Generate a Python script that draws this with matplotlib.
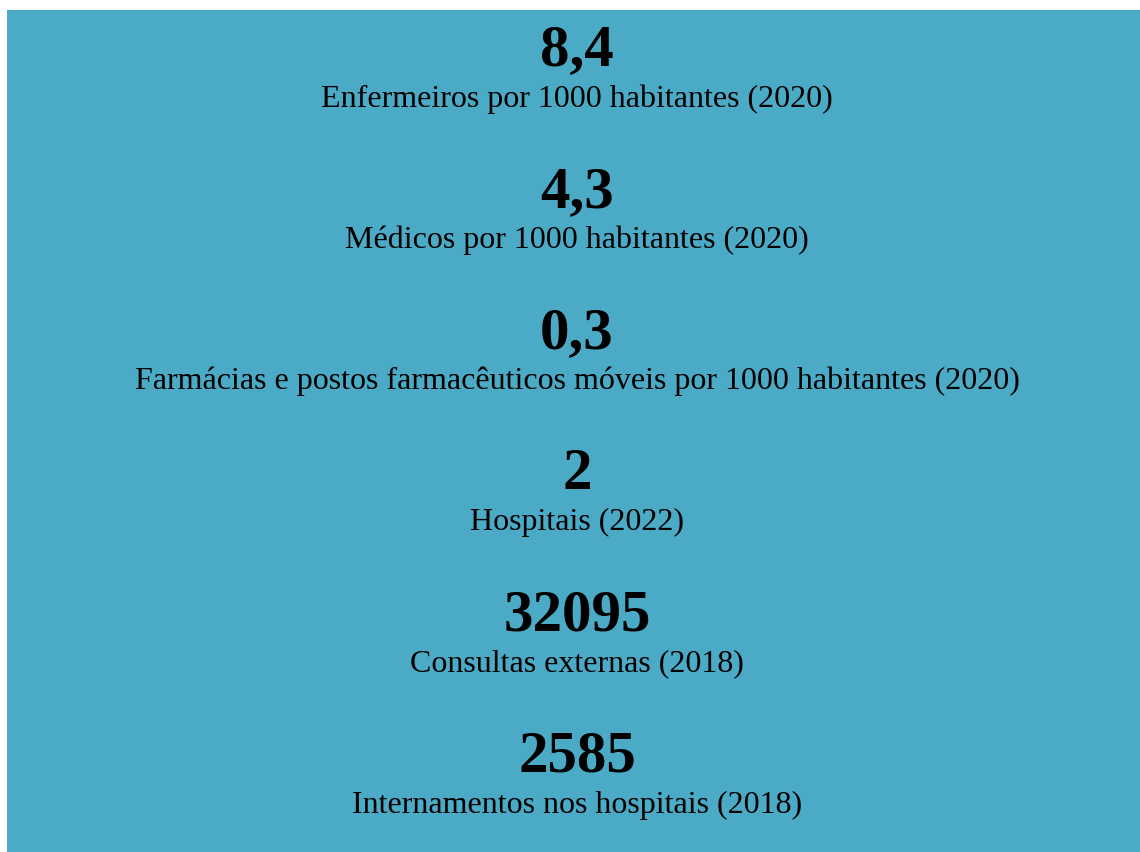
import matplotlib
matplotlib.use("Agg")
import matplotlib.pyplot as plt
from matplotlib.patches import Rectangle

values = ["8,4", "4,3", "0,3", "2", "32095", "2585"]
labels = [
    "Enfermeiros por 1000 habitantes (2020)",
    "Médicos por 1000 habitantes (2020)",
    "Farmácias e postos farmacêuticos móveis por 1000 habitantes (2020)",
    "Hospitais (2022)",
    "Consultas externas (2018)",
    "Internamentos nos hospitais (2018)",
]

W, H = 1140, 853
fig = plt.figure(figsize=(W / 100, H / 100), dpi=100)
fig.patch.set_facecolor("white")
ax = fig.add_axes([0, 0, 1, 1])
ax.set_xlim(0, W)
ax.set_ylim(H, 0)
ax.axis("off")

ax.add_patch(Rectangle((7, 11), W - 7, H - 11, facecolor="#4BABC6", edgecolor="none"))

cx = 577
y0_val, y0_lab, step = 65.5, 106.6, 141.2
for i, (v, l) in enumerate(zip(values, labels)):
    ax.text(cx, y0_val + i * step, v, ha="center", va="baseline",
            fontsize=42.5, fontweight="bold", family="Liberation Serif", color="black")
    ax.text(cx, y0_lab + i * step, l, ha="center", va="baseline",
            fontsize=23, family="Liberation Serif", color="black")

fig.savefig("out.png", dpi=100)
